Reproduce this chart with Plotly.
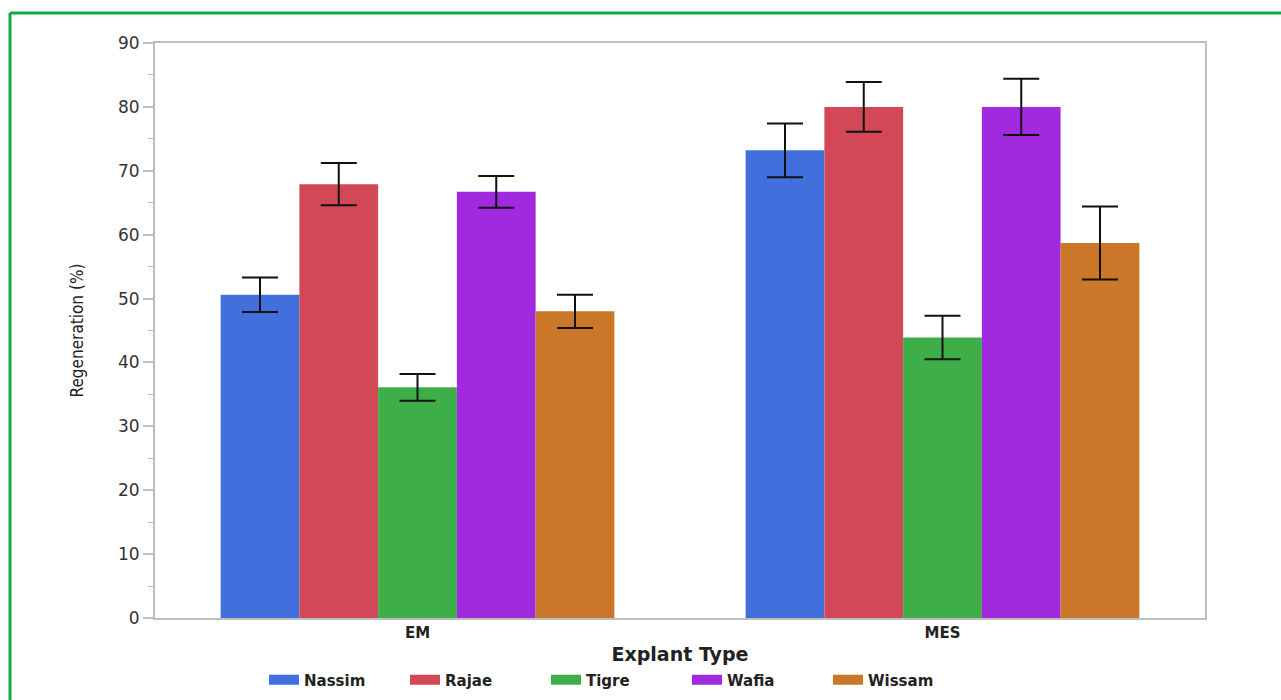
import plotly.graph_objects as go

# Regeneration (%) by explant type and genotype, with error bars
explant_types = ["EM", "MES"]
genotypes = ["Nassim", "Rajae", "Tigre", "Wafia", "Wissam"]

nassim = [50.6, 73.2]
rajae = [67.9, 80.0]
tigre = [36.1, 43.9]
wafia = [66.7, 80.0]
wissam = [48.0, 58.7]

nassim_err = [2.7, 4.2]
rajae_err = [3.3, 3.9]
tigre_err = [2.1, 3.4]
wafia_err = [2.5, 4.4]
wissam_err = [2.6, 5.7]

y_ticks = [0, 10, 20, 30, 40, 50, 60, 70, 80, 90]

values = [nassim, rajae, tigre, wafia, wissam]
errors = [nassim_err, rajae_err, tigre_err, wafia_err, wissam_err]
colors = ["#4170DC", "#D24857", "#3DAE48", "#A22ADE", "#CA7729"]

fig = go.Figure()
for name, vals, errs, col in zip(genotypes, values, errors, colors):
    fig.add_trace(go.Bar(
        name=name,
        x=explant_types,
        y=vals,
        marker=dict(color=col, line=dict(width=0)),
        error_y=dict(type="data", array=errs, visible=True,
                     color="#111111", thickness=2, width=18),
        showlegend=False,
    ))
    # wide rectangular legend swatch
    fig.add_trace(go.Scatter(
        name=name, x=[None], y=[None], mode="lines",
        line=dict(color=col, width=12), showlegend=True,
    ))

W, H = 1281, 700
L, R, T, B = 155, 76, 43, 82
pw, ph = W - L - R, H - T - B


def px(x):
    return (x - L) / pw


def py(y):
    return (H - B - y) / ph


green = "#10A84A"
fig.add_shape(type="line", xref="paper", yref="paper",
              x0=px(10), x1=px(W + 5), y0=py(13), y1=py(13),
              line=dict(color=green, width=3))
fig.add_shape(type="line", xref="paper", yref="paper",
              x0=px(10), x1=px(10), y0=py(13), y1=py(H + 5),
              line=dict(color=green, width=3))

axis_col = "#BDBDBD"
wide = "DejaVu Sans, Verdana, sans-serif"
fig.update_layout(
    width=W, height=H,
    margin=dict(l=L, r=R, t=T, b=B, autoexpand=False),
    paper_bgcolor="white",
    plot_bgcolor="white",
    barmode="group",
    bargap=0.25,
    bargroupgap=0,
    font=dict(family=wide, color="#333333"),
    xaxis=dict(
        showline=True, linecolor=axis_col, linewidth=2, mirror=True,
        ticks="", showgrid=False, automargin=False,
        tickfont=dict(size=15, color="#222222", weight="bold"),
        title=dict(text="<b>Explant Type</b>", font=dict(size=19, color="#222222"), standoff=7),
    ),
    yaxis=dict(
        range=[0, 90],
        tickvals=y_ticks,
        showline=True, linecolor=axis_col, linewidth=2, mirror=True,
        ticks="outside", ticklen=10, tickcolor=axis_col, tickwidth=2,
        minor=dict(dtick=5, ticks="outside", ticklen=5, tickcolor=axis_col, tickwidth=1),
        showgrid=False, zeroline=False, automargin=False,
        tickfont=dict(size=17, color="#333333"),
        title=dict(text="Regeneration (%)",
                   font=dict(size=17, color="#222222",
                             family="DejaVu Sans Condensed, Roboto, sans-serif"),
                   standoff=30),
    ),
    legend=dict(
        orientation="h", x=px(264), xanchor="left", y=py(680), yanchor="middle",
        font=dict(size=15, color="#222222", weight="bold"),
        itemwidth=30, traceorder="normal",
        entrywidth=96, entrywidthmode="pixels",
    ),
)

fig.write_html("out.html")
